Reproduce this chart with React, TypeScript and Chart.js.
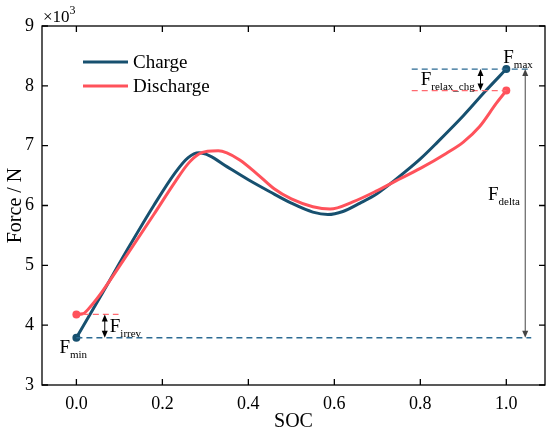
import React, { useEffect, useRef } from "react";
import { Chart, registerables } from "chart.js";

Chart.register(...registerables);

const socCharge = [0, 0.06, 0.12, 0.18, 0.23, 0.26, 0.285, 0.31, 0.35, 0.4, 0.45, 0.5, 0.55, 0.585, 0.62, 0.66, 0.7, 0.74, 0.8, 0.84, 0.9, 0.95, 1.0];
const forceCharge = [3.79, 4.53, 5.28, 6.0, 6.55, 6.8, 6.88, 6.83, 6.65, 6.43, 6.23, 6.04, 5.89, 5.85, 5.9, 6.04, 6.2, 6.42, 6.78, 7.06, 7.5, 7.9, 8.28];

const socDischarge = [0, 0.015, 0.035, 0.06, 0.12, 0.18, 0.23, 0.26, 0.285, 0.305, 0.33, 0.35, 0.38, 0.42, 0.46, 0.5, 0.55, 0.59, 0.643, 0.7, 0.74, 0.8, 0.86, 0.9, 0.938, 0.977, 1.0];
const forceDischarge = [4.18, 4.19, 4.33, 4.56, 5.2, 5.85, 6.4, 6.7, 6.86, 6.905, 6.915, 6.88, 6.76, 6.53, 6.28, 6.11, 5.98, 5.94, 6.06, 6.25, 6.4, 6.62, 6.87, 7.06, 7.32, 7.71, 7.92];

const xTickValues = [0, 0.2, 0.4, 0.6, 0.8, 1.0];
const yTickValues = [3, 4, 5, 6, 7, 8, 9];

const fMin = 3.79;
const fIrrevTop = 4.18;
const fMax = 8.28;
const fRelax = 7.92;
const minLineX = [0, 1.058];
const irrevLineX = [0.015, 0.098];
const maxLineX = [0.78, 1.055];
const relaxLineX = [0.78, 1.0];
const irrevArrowX = 0.066;
const relaxArrowX = 0.94;
const deltaArrowX = 1.044;

const BLUE = "#17506f";
const RED = "#ff525b";
const FONT = "'Liberation Serif', 'Times New Roman', serif";

function drawArrowHead(ctx: CanvasRenderingContext2D, x: number, y: number, dir: number) {
  ctx.beginPath();
  ctx.moveTo(x, y);
  ctx.lineTo(x - 3, y - dir * 7);
  ctx.lineTo(x + 3, y - dir * 7);
  ctx.closePath();
  ctx.fill();
}

function drawDoubleArrow(ctx: CanvasRenderingContext2D, x: number, y1: number, y2: number, color: string) {
  ctx.strokeStyle = color;
  ctx.fillStyle = color;
  ctx.lineWidth = 1;
  ctx.beginPath();
  ctx.moveTo(x, y1 + 4);
  ctx.lineTo(x, y2 - 4);
  ctx.stroke();
  drawArrowHead(ctx, x, y1, -1);
  drawArrowHead(ctx, x, y2, 1);
}

function drawSubLabel(ctx: CanvasRenderingContext2D, x: number, y: number, main: string, sub: string) {
  ctx.fillStyle = "#000";
  ctx.textAlign = "left";
  ctx.textBaseline = "alphabetic";
  ctx.font = `19px ${FONT}`;
  ctx.fillText(main, x, y);
  const w = ctx.measureText(main).width;
  ctx.font = `11px ${FONT}`;
  ctx.fillText(sub, x + w, y + 5);
}

const decorPlugin = {
  id: "decor",
  afterDraw(chart: any) {
    const { ctx, chartArea: a, scales } = chart;
    const xs = scales.x;
    const ys = scales.y;
    ctx.save();
    // frame
    ctx.strokeStyle = "#000";
    ctx.lineWidth = 1.3;
    ctx.strokeRect(a.left, a.top, a.right - a.left, a.bottom - a.top);
    // inward ticks
    ctx.beginPath();
    xTickValues.forEach((v) => {
      const px = xs.getPixelForValue(v);
      ctx.moveTo(px, a.bottom);
      ctx.lineTo(px, a.bottom - 6);
      ctx.moveTo(px, a.top);
      ctx.lineTo(px, a.top + 6);
    });
    yTickValues.forEach((v) => {
      const py = ys.getPixelForValue(v);
      ctx.moveTo(a.left, py);
      ctx.lineTo(a.left + 6, py);
      ctx.moveTo(a.right, py);
      ctx.lineTo(a.right - 6, py);
    });
    ctx.stroke();

    // axis titles
    ctx.fillStyle = "#000";
    ctx.font = `20px ${FONT}`;
    ctx.textAlign = "center";
    ctx.textBaseline = "alphabetic";
    ctx.fillText("SOC", (a.left + a.right) / 2, 427);
    ctx.save();
    ctx.translate(21, (a.top + a.bottom) / 2);
    ctx.rotate(-Math.PI / 2);
    ctx.fillText("Force / N", 0, 0);
    ctx.restore();

    // x10^3
    ctx.textAlign = "left";
    ctx.font = `17px ${FONT}`;
    ctx.fillText("\u00d710", 43, 22);
    const w10 = ctx.measureText("\u00d710").width;
    ctx.font = `12px ${FONT}`;
    ctx.fillText("3", 43 + w10, 14);

    // legend
    const legendItems = [
      { label: "Charge", color: BLUE, y: 62 },
      { label: "Discharge", color: RED, y: 86 },
    ];
    legendItems.forEach((it) => {
      ctx.strokeStyle = it.color;
      ctx.lineWidth = 3;
      ctx.beginPath();
      ctx.moveTo(83, it.y);
      ctx.lineTo(128, it.y);
      ctx.stroke();
      ctx.fillStyle = "#000";
      ctx.font = `19px ${FONT}`;
      ctx.textBaseline = "middle";
      ctx.fillText(it.label, 133, it.y + 1);
    });
    ctx.textBaseline = "alphabetic";

    // arrows
    drawDoubleArrow(ctx, xs.getPixelForValue(irrevArrowX), ys.getPixelForValue(fIrrevTop), ys.getPixelForValue(fMin), "#000");
    drawDoubleArrow(ctx, xs.getPixelForValue(relaxArrowX), ys.getPixelForValue(fMax), ys.getPixelForValue(fRelax), "#000");
    drawDoubleArrow(ctx, xs.getPixelForValue(deltaArrowX), ys.getPixelForValue(fMax), ys.getPixelForValue(fMin), "#444");

    // labels
    const p0x = xs.getPixelForValue(0);
    const pMinY = ys.getPixelForValue(fMin);
    drawSubLabel(ctx, p0x - 17, pMinY + 15, "F", "min");
    drawSubLabel(ctx, xs.getPixelForValue(irrevArrowX) + 5, (ys.getPixelForValue(fIrrevTop) + pMinY) / 2 + 6, "F", "irrev");
    drawSubLabel(ctx, xs.getPixelForValue(relaxLineX[0]) + 9, ys.getPixelForValue(fMax) + 16, "F", "relax_chg");
    drawSubLabel(ctx, xs.getPixelForValue(1.0) - 3, ys.getPixelForValue(fMax) - 6, "F", "max");
    drawSubLabel(ctx, 488, 200, "F", "delta");
    ctx.restore();
  },
};

function pts(xs: number[], ys: number[]) {
  return xs.map((x, i) => ({ x, y: ys[i] }));
}

export default function App() {
  const ref = useRef<HTMLCanvasElement | null>(null);
  useEffect(() => {
    document.body.style.margin = "0";
    if (!ref.current) return;
    const endRadius = (n: number) => (ctx: any) => (ctx.dataIndex === 0 || ctx.dataIndex === n - 1 ? 4 : 0);
    const dashed = (label: string, xv: number[], yv: number, color: string) => ({
      label,
      data: pts(xv, [yv, yv]),
      borderColor: color,
      borderWidth: 1.3,
      borderDash: [6, 4],
      pointRadius: 0,
    });
    const chart = new Chart(ref.current, {
      type: "line",
      data: {
        datasets: [
          dashed("minLine", minLineX, fMin, "#2b6a93"),
          dashed("irrevLine", irrevLineX, fIrrevTop, "#ff6a70"),
          dashed("maxLine", maxLineX, fMax, "#2b6a93"),
          dashed("relaxLine", relaxLineX, fRelax, "#ff6a70"),
          {
            label: "Discharge",
            data: pts(socDischarge, forceDischarge),
            borderColor: RED,
            backgroundColor: RED,
            borderWidth: 3,
            cubicInterpolationMode: "monotone",
            pointRadius: endRadius(socDischarge.length),
            pointBorderWidth: 0,
          },
          {
            label: "Charge",
            data: pts(socCharge, forceCharge),
            borderColor: BLUE,
            backgroundColor: BLUE,
            borderWidth: 3,
            cubicInterpolationMode: "monotone",
            pointRadius: endRadius(socCharge.length),
            pointBorderWidth: 0,
          },
        ],
      },
      options: {
        animation: false,
        responsive: false,
        devicePixelRatio: 1,
        layout: { padding: { top: 26, right: 5, left: 0, bottom: 0 } },
        plugins: { legend: { display: false }, tooltip: { enabled: false } },
        scales: {
          x: {
            type: "linear",
            min: -0.08,
            max: 1.09,
            afterBuildTicks: (s: any) => {
              s.ticks = xTickValues.map((v) => ({ value: v }));
            },
            afterFit: (s: any) => {
              s.height = 46;
            },
            grid: { display: false, drawTicks: false },
            border: { display: false },
            ticks: {
              color: "#000",
              padding: 8,
              font: { family: FONT, size: 18 },
              callback: (v: any) => Number(v).toFixed(1),
            },
          },
          y: {
            type: "linear",
            min: 3,
            max: 9,
            afterBuildTicks: (s: any) => {
              s.ticks = yTickValues.map((v) => ({ value: v }));
            },
            afterFit: (s: any) => {
              s.width = 42;
            },
            grid: { display: false, drawTicks: false },
            border: { display: false },
            ticks: {
              color: "#000",
              padding: 8,
              font: { family: FONT, size: 18 },
              callback: (v: any) => String(v),
            },
          },
        },
      },
      plugins: [decorPlugin],
    } as any);
    return () => chart.destroy();
  }, []);
  return (
    <div style={{ width: 550, height: 431 }}>
      <canvas ref={ref} width={550} height={431} style={{ display: "block" }} />
    </div>
  );
}
